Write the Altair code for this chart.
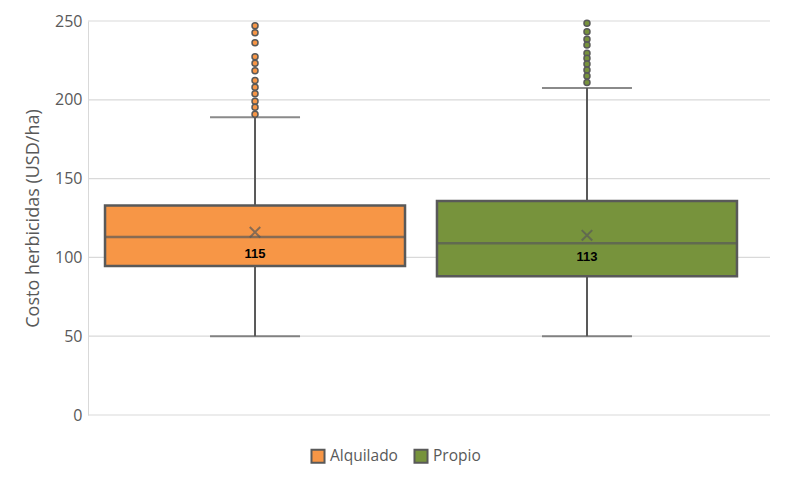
import altair as alt
import pandas as pd

groups = ["Alquilado", "Propio"]
colors = ["#F79646", "#77933C"]
q1 = [94.5, 88.0]
median = [113.0, 109.0]
q3 = [133.0, 135.8]
lower = [50.0, 50.0]
upper = [189.0, 207.5]
mean = [116.0, 114.0]
mean_labels = ["115", "113"]
y_ticks = [0, 50, 100, 150, 200, 250]

out_alq = [247, 242.6, 236.2, 227.3, 223.2, 218.5, 212.2, 208, 203.8, 199.1, 195.3, 190.9]
out_pro = [248.5, 243.2, 238.4, 234.8, 229.5, 226.3, 222.7, 218.9, 215.1, 210.9]

stats = pd.DataFrame({
    "grupo": groups, "q1": q1, "median": median, "q3": q3,
    "lower": lower, "upper": upper, "mean": mean, "label": mean_labels,
})
outliers = pd.DataFrame({
    "grupo": ["Alquilado"] * len(out_alq) + ["Propio"] * len(out_pro),
    "value": out_alq + out_pro,
})
grid = pd.DataFrame({"tick": y_ticks})

GRAY = "#595959"
xenc = alt.X("grupo:N", axis=None,
             scale=alt.Scale(domain=groups, range=[11, 655], paddingInner=0.06, paddingOuter=0))
color = alt.Color("grupo:N", scale=alt.Scale(domain=groups, range=colors),
                  legend=alt.Legend(title=None, orient="none", direction="horizontal",
                                    legendX=222, legendY=427, symbolType="square",
                                    symbolSize=170, symbolStrokeColor=GRAY,
                                    symbolStrokeWidth=2, labelFontSize=15.5,
                                    labelColor=GRAY, labelFont="Open Sans",
                                    columnPadding=12))
yscale = alt.Scale(domain=[0, 250])
yaxis = alt.Axis(title="Costo herbicidas (USD/ha)", values=y_ticks,
                 titleFontSize=18, titleFontWeight="normal", titleColor=GRAY,
                 titleFont="Open Sans", titlePadding=12,
                 labelFontSize=16, labelColor=GRAY, labelFont="Open Sans",
                 labelPadding=6, ticks=False, domain=True, domainColor="#d9d9d9",
                 grid=False)

gridlines = alt.Chart(grid).mark_rule(color="#d9d9d9", strokeWidth=1.2).encode(
    y=alt.Y("tick:Q", scale=yscale, axis=yaxis),
    x=alt.value(0), x2=alt.value("width"))

base = alt.Chart(stats)

whisker = base.mark_rule(color=GRAY, strokeWidth=2).encode(
    x=xenc, y=alt.Y("lower:Q", scale=yscale), y2="upper:Q")
caps_low = base.mark_tick(color=GRAY, thickness=2, size=90).encode(
    x=xenc, y=alt.Y("lower:Q", scale=yscale))
caps_up = base.mark_tick(color=GRAY, thickness=2, size=90).encode(
    x=xenc, y=alt.Y("upper:Q", scale=yscale))
box = base.mark_bar(size=300, stroke=GRAY, strokeWidth=2.5, opacity=1).encode(
    x=xenc, y=alt.Y("q1:Q", scale=yscale), y2="q3:Q", color=color)
med = base.mark_tick(color=GRAY, thickness=2.5, size=300).encode(
    x=xenc, y=alt.Y("median:Q", scale=yscale))
mean_mark = base.mark_point(shape="M-1,-1L1,1M-1,1L1,-1", size=110, color=GRAY,
                            strokeWidth=2, filled=False).encode(
    x=xenc, y=alt.Y("mean:Q", scale=yscale))
labels = base.mark_text(dy=22, fontSize=13, fontWeight="bold", color="black",
                        font="Liberation Sans").encode(
    x=xenc, y=alt.Y("mean:Q", scale=yscale), text="label:N")
outs = alt.Chart(outliers).mark_point(filled=True, size=36, stroke=GRAY,
                                      strokeWidth=1.5, opacity=1).encode(
    x=xenc, y=alt.Y("value:Q", scale=yscale),
    fill=alt.Fill("grupo:N", scale=alt.Scale(domain=groups, range=colors), legend=None))

chart = alt.layer(gridlines, whisker, caps_low, caps_up, box, med, mean_mark, labels, outs).properties(
    width=682, height=394,
    autosize=alt.AutoSizeParams(type="none"),
    padding={"left": 88, "top": 21, "right": 20, "bottom": 62},
    background="white",
).configure_view(stroke=None)

chart.save("out.html", embed_options={"renderer": "svg", "actions": False})
